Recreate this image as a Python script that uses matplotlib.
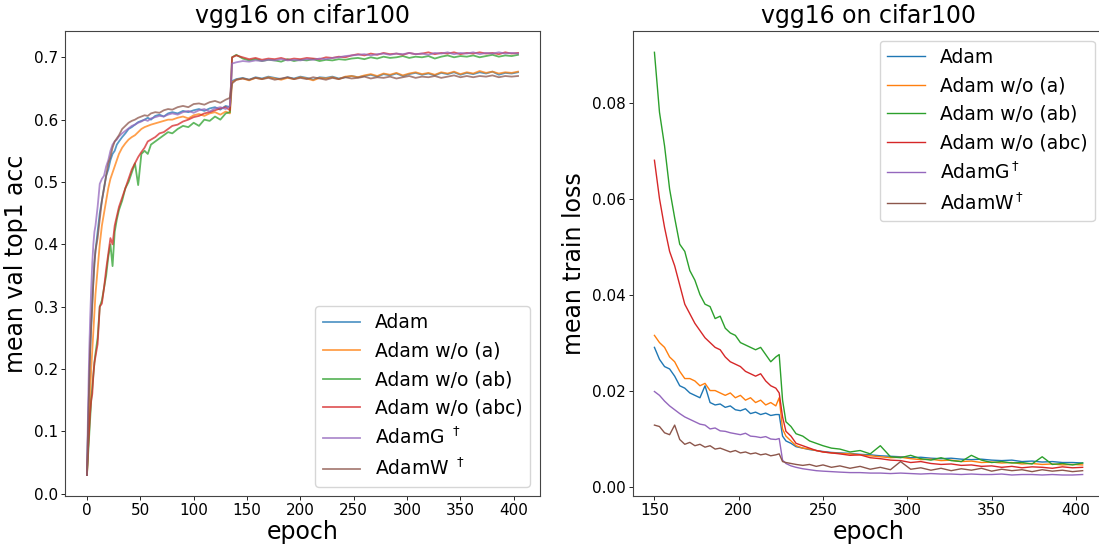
import matplotlib
matplotlib.use('Agg')
import matplotlib.pyplot as plt

labels_left = ['Adam', 'Adam w/o (a)', 'Adam w/o (ab)', 'Adam w/o (abc)', 'AdamG $^\\dagger$', 'AdamW $^\\dagger$']
labels_right = ['Adam', 'Adam w/o (a)', 'Adam w/o (ab)', 'Adam w/o (abc)', 'AdamG$^\\dagger$', 'AdamW$^\\dagger$']

# epochs for the validation accuracy curves
epoch_acc = [0, 1, 2, 3, 4, 5, 6, 7, 8, 10, 12, 14, 16, 18, 20, 22, 24, 26, 28, 30,
             33, 36, 39, 42, 45, 48, 51, 54, 57, 60, 64, 68, 72, 76, 80, 85, 90, 95, 100,
             105, 110, 115, 120, 125, 130, 134,
             136, 140, 146, 152, 158, 164, 170, 176, 182, 188, 194, 200, 206, 212, 218,
             224, 230, 236, 242, 248, 254, 260, 266, 272, 278, 284, 290, 296, 302, 308,
             314, 320, 326, 332, 338, 344, 350, 356, 362, 368, 374, 380, 386, 392, 398, 404]

acc_adam = [0.03, 0.10, 0.17, 0.23, 0.27, 0.31, 0.34, 0.37, 0.39, 0.42, 0.45, 0.47, 0.49, 0.51, 0.52, 0.535,
            0.545, 0.55, 0.56, 0.565, 0.572, 0.578, 0.585, 0.588, 0.592, 0.596, 0.598, 0.60, 0.603, 0.60,
            0.606, 0.608, 0.605, 0.61, 0.612, 0.61, 0.614, 0.612, 0.615, 0.617, 0.614, 0.618, 0.62, 0.616,
            0.622, 0.62,
            0.662, 0.665, 0.667, 0.664, 0.668, 0.666, 0.669, 0.667, 0.665, 0.668, 0.666, 0.669, 0.667,
            0.664, 0.668, 0.667, 0.669, 0.666, 0.668, 0.67, 0.668, 0.67, 0.672, 0.669, 0.673, 0.671, 0.674,
            0.67, 0.673, 0.675, 0.672, 0.674, 0.671, 0.675, 0.673, 0.676, 0.672, 0.675, 0.673, 0.676, 0.674,
            0.677, 0.672, 0.675, 0.674, 0.676]
acc_a = [0.03, 0.07, 0.12, 0.16, 0.20, 0.23, 0.26, 0.29, 0.32, 0.36, 0.40, 0.43, 0.45, 0.47, 0.49, 0.505,
         0.515, 0.525, 0.535, 0.545, 0.555, 0.562, 0.568, 0.572, 0.575, 0.58, 0.585, 0.588, 0.59, 0.592,
         0.594, 0.596, 0.598, 0.60, 0.60, 0.603, 0.605, 0.602, 0.607, 0.609, 0.606, 0.61, 0.612, 0.608,
         0.613, 0.61,
         0.66, 0.664, 0.666, 0.663, 0.667, 0.665, 0.668, 0.666, 0.664, 0.667, 0.665, 0.668, 0.666, 0.663,
         0.667, 0.666, 0.668, 0.665, 0.669, 0.67, 0.668, 0.671, 0.673, 0.67, 0.674, 0.672, 0.675, 0.671,
         0.674, 0.676, 0.673, 0.675, 0.672, 0.676, 0.674, 0.677, 0.673, 0.676, 0.674, 0.678, 0.675, 0.677,
         0.674, 0.676, 0.675, 0.677]
acc_ab = [0.03, 0.06, 0.09, 0.12, 0.15, 0.17, 0.19, 0.21, 0.225, 0.25, 0.30, 0.31, 0.33, 0.35, 0.38, 0.40,
          0.365, 0.42, 0.44, 0.455, 0.47, 0.49, 0.50, 0.515, 0.53, 0.495, 0.545, 0.55, 0.545, 0.56, 0.565,
          0.57, 0.575, 0.58, 0.578, 0.585, 0.59, 0.588, 0.595, 0.59, 0.60, 0.598, 0.605, 0.60, 0.61, 0.612,
          0.70, 0.704, 0.698, 0.695, 0.697, 0.694, 0.696, 0.695, 0.693, 0.697, 0.694, 0.696, 0.695, 0.697,
          0.694, 0.696, 0.695, 0.697, 0.696, 0.698, 0.699, 0.697, 0.70, 0.698, 0.701, 0.699, 0.70, 0.702,
          0.699, 0.701, 0.70, 0.702, 0.698, 0.701, 0.703, 0.70, 0.702, 0.701, 0.703, 0.70, 0.702, 0.704,
          0.701, 0.703, 0.702, 0.704]
acc_abc = [0.03, 0.07, 0.10, 0.13, 0.15, 0.16, 0.19, 0.21, 0.22, 0.24, 0.30, 0.305, 0.33, 0.36, 0.385, 0.41,
           0.40, 0.43, 0.445, 0.46, 0.475, 0.49, 0.505, 0.52, 0.53, 0.54, 0.548, 0.555, 0.565, 0.568, 0.572,
           0.578, 0.58, 0.585, 0.59, 0.592, 0.597, 0.60, 0.604, 0.606, 0.61, 0.612, 0.615, 0.618, 0.62, 0.615,
           0.70, 0.703, 0.70, 0.697, 0.699, 0.696, 0.698, 0.697, 0.699, 0.696, 0.698, 0.697, 0.699, 0.698,
           0.697, 0.70, 0.699, 0.701, 0.70, 0.703, 0.705, 0.703, 0.706, 0.704, 0.707, 0.705, 0.706, 0.704,
           0.707, 0.705, 0.706, 0.708, 0.705, 0.707, 0.706, 0.708, 0.705, 0.707, 0.706, 0.708, 0.706, 0.707,
           0.705, 0.708, 0.706, 0.707]
acc_g = [0.03, 0.13, 0.22, 0.28, 0.33, 0.37, 0.40, 0.42, 0.43, 0.46, 0.497, 0.505, 0.51, 0.525, 0.535, 0.55,
         0.56, 0.565, 0.568, 0.573, 0.578, 0.582, 0.586, 0.59, 0.592, 0.595, 0.597, 0.60, 0.598, 0.602,
         0.604, 0.606, 0.605, 0.608, 0.61, 0.608, 0.612, 0.614, 0.611, 0.615, 0.617, 0.613, 0.618, 0.62,
         0.617, 0.622,
         0.69, 0.692, 0.694, 0.693, 0.695, 0.694, 0.696, 0.695, 0.697, 0.695, 0.696, 0.695, 0.697, 0.696,
         0.698, 0.697, 0.699, 0.70, 0.702, 0.703, 0.704, 0.705, 0.703, 0.705, 0.706, 0.704, 0.706, 0.705,
         0.707, 0.705, 0.706, 0.704, 0.707, 0.706, 0.708, 0.705, 0.707, 0.706, 0.708, 0.705, 0.707, 0.706,
         0.708, 0.706, 0.707, 0.706]
acc_w = [0.03, 0.10, 0.17, 0.23, 0.27, 0.30, 0.34, 0.37, 0.39, 0.41, 0.44, 0.47, 0.49, 0.51, 0.53, 0.54,
         0.555, 0.565, 0.57, 0.575, 0.585, 0.59, 0.595, 0.598, 0.60, 0.603, 0.605, 0.607, 0.606, 0.61,
         0.612, 0.611, 0.615, 0.617, 0.616, 0.62, 0.622, 0.62, 0.625, 0.626, 0.624, 0.628, 0.63, 0.627,
         0.632, 0.635,
         0.658, 0.664, 0.666, 0.664, 0.667, 0.665, 0.667, 0.664, 0.666, 0.668, 0.665, 0.667, 0.665, 0.668,
         0.666, 0.664, 0.667, 0.665, 0.668, 0.666, 0.667, 0.669, 0.666, 0.668, 0.667, 0.669, 0.666, 0.668,
         0.67, 0.667, 0.669, 0.668, 0.67, 0.667, 0.669, 0.671, 0.668, 0.67, 0.668, 0.67, 0.669, 0.671,
         0.668, 0.67, 0.669, 0.67]

# epochs for the train loss curves
epoch_loss = [150, 153, 156, 159, 162, 165, 168, 171, 174, 177, 180, 183, 186, 189, 192, 195, 198,
              201, 204, 207, 210, 213, 216, 219, 222,
              224, 226, 228, 231, 234, 238, 242, 246, 250, 255, 260,
              266, 272, 278, 284, 290, 296, 302, 308, 314, 320, 326, 332, 338, 344, 350, 356,
              362, 368, 374, 380, 386, 392, 398, 404]

loss_adam = [0.029, 0.0265, 0.025, 0.0245, 0.023, 0.021, 0.0205, 0.0195, 0.019, 0.0185, 0.021, 0.0175,
             0.017, 0.0172, 0.0165, 0.0168, 0.016, 0.0158, 0.0162, 0.0152, 0.0155, 0.015, 0.0153, 0.0148, 0.015,
             0.015, 0.0105, 0.0095, 0.009, 0.0083, 0.008, 0.0077, 0.0075, 0.0073, 0.0071, 0.007,
             0.0069, 0.0067, 0.0066, 0.0064, 0.0063, 0.0062, 0.006, 0.0061, 0.0059, 0.0058, 0.0059, 0.0057,
             0.0056, 0.0057, 0.0055, 0.0054, 0.0055, 0.0052, 0.0053, 0.0051, 0.0052, 0.005, 0.005, 0.0049]
loss_a = [0.0315, 0.030, 0.029, 0.027, 0.026, 0.024, 0.0225, 0.0225, 0.022, 0.021, 0.0215, 0.020, 0.020,
          0.0195, 0.019, 0.0195, 0.0185, 0.019, 0.018, 0.0185, 0.0175, 0.018, 0.017, 0.0175, 0.0168,
          0.0185, 0.012, 0.0105, 0.0095, 0.0085, 0.008, 0.0078, 0.0075, 0.0072, 0.007, 0.0069,
          0.0068, 0.0066, 0.0064, 0.0062, 0.006, 0.0061, 0.0058, 0.0056, 0.0057, 0.0054, 0.0055, 0.0052,
          0.0053, 0.005, 0.0051, 0.0049, 0.005, 0.0047, 0.0048, 0.0046, 0.0047, 0.0045, 0.0046, 0.0045]
loss_ab = [0.0905, 0.078, 0.071, 0.062, 0.056, 0.0505, 0.049, 0.045, 0.043, 0.040, 0.038, 0.0375, 0.035,
           0.0355, 0.033, 0.032, 0.0315, 0.030, 0.0295, 0.029, 0.0285, 0.029, 0.0275, 0.026, 0.027,
           0.0275, 0.018, 0.0135, 0.0125, 0.011, 0.0105, 0.0095, 0.009, 0.0085, 0.008, 0.0078,
           0.0072, 0.0075, 0.0068, 0.0085, 0.0062, 0.006, 0.0065, 0.0058, 0.0055, 0.006, 0.0054, 0.0052,
           0.0065, 0.0055, 0.005, 0.0052, 0.0049, 0.005, 0.0047, 0.0062, 0.0046, 0.0048, 0.0045, 0.0049]
loss_abc = [0.068, 0.060, 0.054, 0.049, 0.046, 0.042, 0.038, 0.036, 0.034, 0.0325, 0.031, 0.030, 0.029,
            0.0285, 0.027, 0.026, 0.0255, 0.025, 0.024, 0.0235, 0.023, 0.0235, 0.022, 0.021, 0.0205,
            0.0195, 0.0145, 0.0115, 0.0105, 0.009, 0.0085, 0.008, 0.0075, 0.0072, 0.007, 0.0068,
            0.0065, 0.0066, 0.006, 0.0058, 0.0055, 0.0054, 0.005, 0.0052, 0.0048, 0.0046, 0.0047, 0.0044,
            0.0045, 0.0042, 0.0043, 0.004, 0.0042, 0.0039, 0.0041, 0.004, 0.0038, 0.0041, 0.0039, 0.004]
loss_g = [0.0198, 0.019, 0.0178, 0.0168, 0.016, 0.0152, 0.0145, 0.014, 0.0135, 0.013, 0.0128, 0.012,
          0.0122, 0.0116, 0.0115, 0.0112, 0.011, 0.0108, 0.0111, 0.0105, 0.0104, 0.0102, 0.0104, 0.0099, 0.0098,
          0.010, 0.0055, 0.0048, 0.0043, 0.004, 0.0037, 0.0035, 0.0033, 0.0032, 0.0031, 0.003,
          0.0029, 0.0029, 0.0028, 0.0028, 0.0027, 0.0028, 0.0027, 0.0026, 0.0027, 0.0026, 0.0026, 0.0025,
          0.0026, 0.0025, 0.0025, 0.0026, 0.0024, 0.0025, 0.0025, 0.0024, 0.0025, 0.0024, 0.0024, 0.0025]
loss_w = [0.0128, 0.0125, 0.0112, 0.0108, 0.0128, 0.0098, 0.0088, 0.0092, 0.0085, 0.0088, 0.0082, 0.0085,
          0.0078, 0.008, 0.0076, 0.0072, 0.0075, 0.007, 0.0072, 0.0068, 0.007, 0.0066, 0.0068, 0.0064, 0.0066,
          0.0068, 0.0052, 0.005, 0.0048, 0.0046, 0.0044, 0.0046, 0.0042, 0.0045, 0.004, 0.0043,
          0.0038, 0.0042, 0.0036, 0.004, 0.0035, 0.0052, 0.0036, 0.0039, 0.0034, 0.0038, 0.0033, 0.0037,
          0.0034, 0.0038, 0.0032, 0.0036, 0.0033, 0.0035, 0.0031, 0.0035, 0.0032, 0.0034, 0.0031, 0.0033]

acc_series = [acc_adam, acc_a, acc_ab, acc_abc, acc_g, acc_w]
loss_series = [loss_adam, loss_a, loss_ab, loss_abc, loss_g, loss_w]
colors = ['C0', 'C1', 'C2', 'C3', 'C4', 'C5']

fig = plt.figure(figsize=(10.99, 5.47), dpi=100)
ax1 = fig.add_axes([0.0595, 0.093, 0.4315, 0.850])
ax2 = fig.add_axes([0.576, 0.093, 0.4286, 0.850])

for ys, lab, col in zip(acc_series, labels_left, colors):
    ax1.plot(epoch_acc, ys, color=col, label=lab, lw=1.3, alpha=0.75)
for ys, lab, col in zip(loss_series, labels_right, colors):
    ax2.plot(epoch_loss, ys, color=col, label=lab, lw=1.0)

ax1.set_title('vgg16 on cifar100', fontsize=17)
ax1.set_xlabel('epoch', fontsize=17, labelpad=1)
ax1.set_ylabel('mean val top1 acc', fontsize=17)
ax1.set_xticks([0, 50, 100, 150, 200, 250, 300, 350, 400])
ax1.set_yticks([0.0, 0.1, 0.2, 0.3, 0.4, 0.5, 0.6, 0.7])
ax1.legend(loc='lower right', fontsize=13.5)

ax2.set_title('vgg16 on cifar100', fontsize=17)
ax2.set_xlabel('epoch', fontsize=17, labelpad=1)
ax2.set_ylabel('mean train loss', fontsize=17)
ax2.set_xticks([150, 200, 250, 300, 350, 400])
ax2.set_yticks([0.0, 0.02, 0.04, 0.06, 0.08])
ax2.legend(loc='upper right', fontsize=13.5)

for ax in (ax1, ax2):
    ax.tick_params(labelsize=11, length=2.6, pad=2.6, width=0.6)
    for s in ax.spines.values():
        s.set_edgecolor('#444444')

fig.savefig('out.png', dpi=100)
